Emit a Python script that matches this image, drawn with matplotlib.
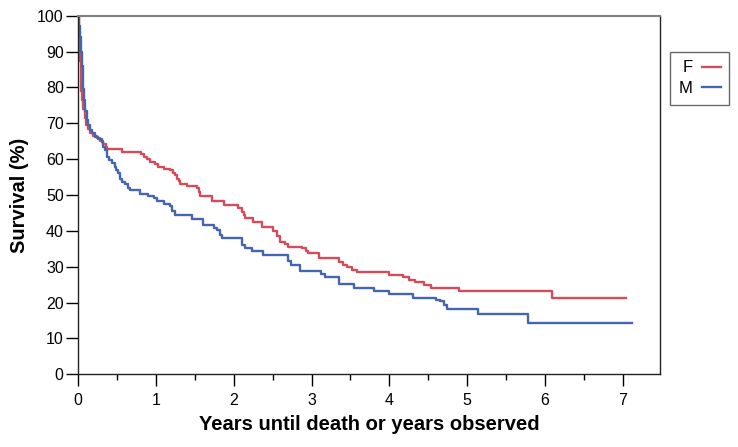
import matplotlib
matplotlib.use('Agg')
import matplotlib.pyplot as plt
from matplotlib.lines import Line2D
from matplotlib.ticker import MultipleLocator

# Kaplan-Meier steps (years, survival %)
years_f = [0, 0.005, 0.01, 0.02, 0.03, 0.04, 0.05, 0.065, 0.08, 0.1, 0.12, 0.15, 0.19, 0.24, 0.28,
           0.32, 0.35, 0.37, 0.56, 0.80, 0.84, 0.88, 0.92, 0.98, 1.03, 1.10, 1.18, 1.22, 1.24, 1.27,
           1.29, 1.31, 1.40, 1.52, 1.55, 1.57, 1.72, 1.87, 2.05, 2.10, 2.13, 2.15, 2.25, 2.36, 2.51,
           2.56, 2.60, 2.66, 2.70, 2.88, 2.93, 2.96, 3.09, 3.35, 3.40, 3.45, 3.52, 3.58, 3.99, 4.18,
           4.25, 4.33, 4.45, 4.53, 4.89, 6.09, 7.04]
surv_f = [100, 96, 91, 87.5, 84, 79, 76.5, 74, 71.5, 69.5, 68.3, 67.2, 66.5, 65.8, 65,
          64.2, 63.4, 62.7, 62.1, 61.4, 60.7, 60.0, 59.3, 58.6, 57.9, 57.3, 56.9, 56.2, 55.6, 54.6,
          54.0, 53.1, 52.5, 51.9, 50.8, 49.7, 48.4, 47.2, 46.3, 45.3, 44.4, 43.5, 42.5, 41.1, 40.0,
          38.5, 37.0, 36.2, 35.6, 35.1, 34.3, 33.7, 32.5, 31.4, 30.5, 29.8, 29.1, 28.4, 27.8, 27.0,
          26.3, 25.7, 24.9, 24.1, 23.3, 21.4, 21.4]

years_m = [0, 0.01, 0.02, 0.035, 0.045, 0.056, 0.065, 0.073, 0.09, 0.108, 0.13, 0.15, 0.18, 0.21,
           0.25, 0.30, 0.32, 0.34, 0.37, 0.40, 0.43, 0.47, 0.49, 0.51, 0.54, 0.56, 0.60, 0.64, 0.67,
           0.79, 0.90, 0.97, 1.01, 1.10, 1.18, 1.21, 1.24, 1.46, 1.60, 1.74, 1.78, 1.82, 1.85, 2.10,
           2.15, 2.23, 2.38, 2.70, 2.73, 2.85, 3.12, 3.17, 3.35, 3.54, 3.80, 3.99, 4.30, 4.60, 4.65,
           4.70, 4.74, 5.14, 5.78, 7.12]
surv_m = [100, 97, 94, 90, 86, 83, 79.5, 76.5, 73.5, 70.9, 69.5, 68.1, 67.2, 66.3,
          65.6, 64.9, 63.5, 62.5, 60.7, 59.8, 58.8, 57.9, 56.9, 56.0, 54.6, 53.7, 53.0, 51.9, 51.4,
          50.4, 49.8, 49.1, 48.3, 47.6, 47.0, 45.6, 44.4, 43.2, 41.6, 40.9, 40.2, 38.9, 37.9, 36.0,
          35.2, 34.4, 33.2, 31.5, 30.4, 28.9, 28.0, 27.2, 25.1, 24.1, 23.3, 22.3, 21.4, 20.8, 20.4,
          19.3, 18.3, 16.8, 14.4, 14.4]

groups = ['F', 'M']
colors = ['#d24c5c', '#4565ae']

plt.rcParams['font.family'] = ['Liberation Sans', 'DejaVu Sans']

fig = plt.figure(figsize=(7.38, 4.47), dpi=100)
ax = fig.add_axes([78.3 / 738, 1 - 374.3 / 447, (660 - 78.3) / 738, (374.3 - 15.7) / 447])

# Plot survival curves as steps
ax.plot(years_f, surv_f, drawstyle='steps-post', color=colors[0], lw=1.7)
ax.plot(years_m, surv_m, drawstyle='steps-post', color=colors[1], lw=1.7)

# Axis limits and ticks
ax.set_xlim(0, 7.48)
ax.set_ylim(0, 100)
ax.xaxis.set_major_locator(MultipleLocator(1))
ax.xaxis.set_minor_locator(MultipleLocator(0.5))
ax.yaxis.set_major_locator(MultipleLocator(10))
ax.tick_params(axis='x', which='major', direction='out', length=8.5, width=1, labelsize=11.5, pad=5)
ax.tick_params(axis='x', which='minor', direction='out', length=4.3, width=1)
ax.tick_params(axis='y', which='major', direction='out', length=8.5, width=1, labelsize=11.5, pad=2)

# Frame: grey top, dark others
for s in ['left', 'bottom', 'right']:
    ax.spines[s].set_color('#222222')
    ax.spines[s].set_linewidth(1)
ax.spines['top'].set_color('#808080')
ax.spines['top'].set_linewidth(1.5)

# Axis labels
ax.set_xlabel('Years until death or years observed', fontsize=14.5, fontweight='bold', labelpad=5)
ax.set_ylabel('Survival (%)', fontsize=14.5, fontweight='bold', labelpad=6)

# Legend outside to the right
handles = [Line2D([], [], color=c, lw=1.7) for c in colors]
fig.legend(handles, groups, loc='upper right', bbox_to_anchor=(729 / 738, 1 - 52 / 447),
           markerfirst=False, frameon=True, fancybox=False, edgecolor='#444444',
           fontsize=12, handlelength=1.1, handletextpad=0.6, borderpad=0.5, labelspacing=0.35,
           borderaxespad=0)

plt.savefig('out.png', dpi=100)
plt.close()
